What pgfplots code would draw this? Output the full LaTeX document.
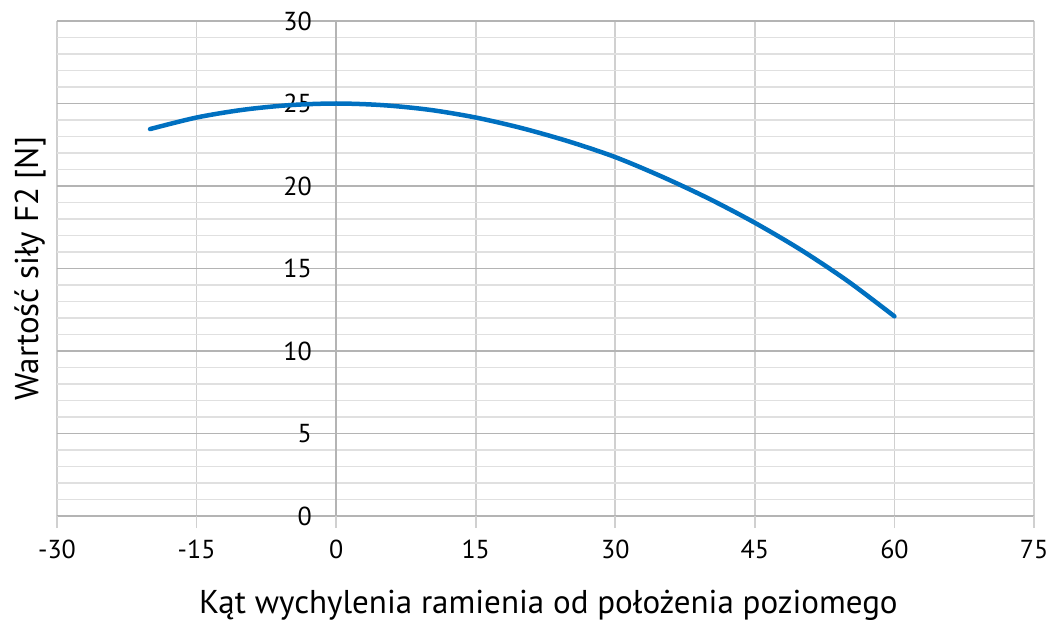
\documentclass[border=0pt]{standalone}
\usepackage{fontspec}
\setmainfont{PT Sans}
\usepackage{pgfplots}
\pgfplotsset{compat=1.18}
\definecolor{majgray}{HTML}{B4B4B4}
\definecolor{mingray}{HTML}{E0E0E0}
\definecolor{vgray}{HTML}{D0D0D0}
\definecolor{curve}{HTML}{0070C0}
\begin{document}
\begin{tikzpicture}
\begin{axis}[
  scale only axis,
  width=977pt, height=495pt,
  xmin=-30, xmax=75, ymin=0, ymax=30,
  xtick={-30,-15,0,15,30,45,60,75},
  xticklabels={-30,-15,0,15,30,45,60,75},
  ytick={0,5,10,15,20,25,30},
  yticklabels={0,5,10,15,20,25,30},
  minor y tick num=4,
  grid=both,
  major x grid style={draw=vgray, line width=1.8pt},
  major y grid style={draw=majgray, line width=1.8pt},
  minor y grid style={draw=mingray, line width=1.8pt},
  minor x tick num=0,
  axis line style={draw=none},
  tick align=outside,
  major tick length=12pt,
  xtick pos=bottom, ytick pos=left,
  xtick style={draw=vgray, line width=1.8pt},
  ytick style={draw=none},
  minor tick style={draw=none},
  every tick label/.append style={inner sep=0pt, font=\fontsize{26}{30}\selectfont},
  xticklabel style={anchor=north, yshift=-12pt},
  yticklabel style={anchor=east, xshift=267pt},
  xlabel={Kąt wychylenia ramienia od położenia poziomego},
  ylabel={Wartość siły F2 [N]},
  xlabel style={font=\fontsize{33}{40}\selectfont, at={(axis description cs:0.503,-0.18)}, anchor=center},
  ylabel style={font=\fontsize{33}{40}\selectfont, at={(axis description cs:-0.0276,0.5)}, anchor=center, rotate=0},
  clip=false,
]
\draw[majgray, line width=1.8pt] (axis cs:0,0) -- (axis cs:0,30);
\addplot[curve, line width=4.5pt, smooth, line cap=round] coordinates {
(-20,23.45) (-15,24.15) (-10,24.62) (-5,24.9) (0,25.0) (5,24.9) (10,24.62)
(15,24.15) (20,23.5) (25,22.7) (30,21.75) (35,20.57) (40,19.25) (45,17.77)
(50,16.11) (55,14.23) (60,12.1)
};
\coordinate (bl) at (rel axis cs:0,0);
\coordinate (tr) at (rel axis cs:1,1);
\end{axis}
\pgfresetboundingbox
\path ([shift={(-57pt,-108pt)}]bl) rectangle ([shift={(19pt,21pt)}]tr);
\end{tikzpicture}
\end{document}
